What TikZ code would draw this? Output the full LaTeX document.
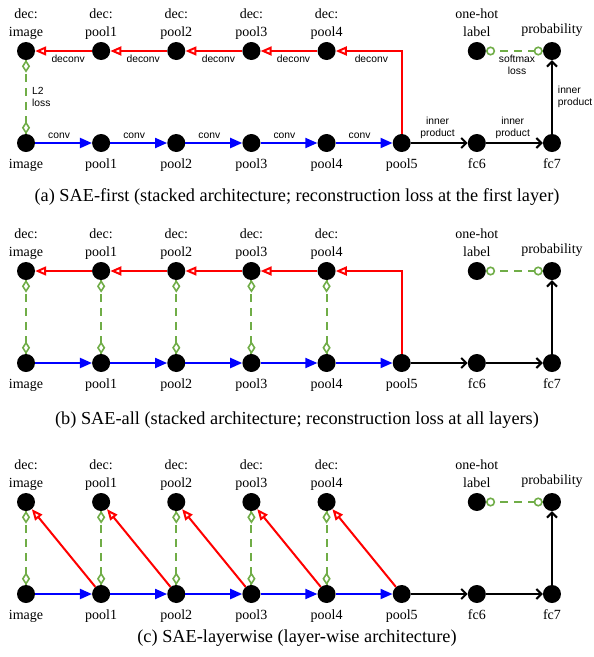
\documentclass[tikz,border=0pt]{standalone}
\usepackage{fontspec}
\setmainfont{Liberation Serif}
\setsansfont{Liberation Sans}
\usetikzlibrary{arrows.meta,shapes.geometric}
\definecolor{lossgreen}{RGB}{112,173,71}
\tikzset{
  dot/.style={circle,fill=black,inner sep=0pt,minimum size=18pt},
  nlab/.style={font=\fontsize{14}{16.5}\selectfont,inner sep=0pt},
  elab/.style={font=\sffamily\fontsize{10.3}{12}\selectfont,align=center,inner sep=1pt,text=black},
  captxt/.style={font=\fontsize{18.3}{21}\selectfont,inner sep=0pt},
  encst/.style={blue,line width=2pt,-{Triangle[length=12pt,width=10pt]}},
  decst/.style={red,line width=2pt,-{Triangle[open,length=11pt,width=9pt]}},
  fwdst/.style={black,line width=2pt,-{Straight Barb[length=5pt,width=10pt]}},
  lossst/.style={lossgreen,line width=2pt,dash pattern=on 8pt off 6pt},
  dmark/.style={diamond,draw=lossgreen,solid,fill=white,line width=1.6pt,inner sep=0pt,
     minimum width=7pt,minimum height=10.5pt},
  cmark/.style={circle,draw=lossgreen,solid,fill=white,line width=1.6pt,inner sep=0pt,
     minimum size=7.5pt},
}
% #1 prefix, #2 top row y, #3 bottom row y
\newcommand\panelnodes[3]{%
  \foreach \i/\t in {0/image,1/pool1,2/pool2,3/pool3,4/pool4,5/pool5,6/fc6,7/fc7}{
    \node[dot] (#1b\i) at ({26+75.14*\i},#3) {};
    \node[nlab,anchor=base] (#1bl\i) at ({26+75.14*\i},#3+25) {\t};
  }
  \foreach \i/\t in {0/image,1/pool1,2/pool2,3/pool3,4/pool4}{
    \node[dot] (#1d\i) at ({26+75.14*\i},#2) {};
    \node[nlab,anchor=base] (#1dla\i) at ({26+75.14*\i},#2-33) {dec:};
    \node[nlab,anchor=base] (#1dlb\i) at ({26+75.14*\i},#2-15) {\t};
  }
  \node[dot] (#1oh) at ({26+75.14*6},#2) {};
  \node[nlab,anchor=base] (#1ohla) at ({26+75.14*6},#2-33) {one-hot};
  \node[nlab,anchor=base] (#1ohlb) at ({26+75.14*6},#2-15) {label};
  \node[dot] (#1pr) at ({26+75.14*7},#2) {};
  \node[nlab,anchor=base] (#1prl) at ({26+75.14*7},#2-18) {probability};
}
% loss connector: #1 top node, #2 bottom node
\newcommand\lossline[2]{%
  \draw[lossst] (#1) -- (#2)
    node[dmark,pos=0,anchor=north] (#1m) {}
    node[dmark,pos=1,anchor=south] (#2m) {};
}
\newcommand\smaxline[2]{%
  \draw[lossst] (#1) -- (#2)
    node[cmark,pos=0,anchor=west] (#1m) {}
    node[cmark,pos=1,anchor=east] (#2m) {};
}
\begin{document}
\begin{tikzpicture}[x=1pt,y=-1pt]
\useasboundingbox (0,0) rectangle (594,657);

%% (a)
\panelnodes{a}{51}{143}
\draw[encst] (ab0) -- node[elab,pos=0.42,above=2pt]{conv} (ab1);
\draw[encst] (ab1) -- node[elab,pos=0.42,above=2pt]{conv} (ab2);
\draw[encst] (ab2) -- node[elab,pos=0.42,above=2pt]{conv} (ab3);
\draw[encst] (ab3) -- node[elab,pos=0.42,above=2pt]{conv} (ab4);
\draw[encst] (ab4) -- node[elab,pos=0.42,above=2pt]{conv} (ab5);
\draw[fwdst] (ab5) -- node[elab,pos=0.47,above=2pt]{inner\\product} (ab6);
\draw[fwdst] (ab6) -- node[elab,pos=0.47,above=2pt]{inner\\product} (ab7);
\draw[fwdst] (ab7) -- node[elab,pos=0.5,right=4pt,align=left]{inner\\product} (apr);
\draw[decst] (ab5) |- node[elab,pos=0.73,below=2pt]{deconv} (ad4);
\draw[decst] (ad4) -- node[elab,pos=0.42,below=2pt]{deconv} (ad3);
\draw[decst] (ad3) -- node[elab,pos=0.42,below=2pt]{deconv} (ad2);
\draw[decst] (ad2) -- node[elab,pos=0.42,below=2pt]{deconv} (ad1);
\draw[decst] (ad1) -- node[elab,pos=0.42,below=2pt]{deconv} (ad0);
\lossline{ad0}{ab0}
\node[elab,align=left,anchor=west] (al2) at (31,97) {L2\\loss};
\smaxline{aoh}{apr}
\node[elab,anchor=north] (asm) at (517,54) {softmax\\loss};
\node[captxt] (capa) at (297,197) {(a) SAE-first (stacked architecture; reconstruction loss at the first layer)};

%% (b)
\panelnodes{b}{271}{363}
\foreach \i [evaluate=\i as \j using int(\i+1)] in {0,...,4}{
  \draw[encst] (bb\i) -- (bb\j);
}
\draw[fwdst] (bb5) -- (bb6);
\draw[fwdst] (bb6) -- (bb7);
\draw[fwdst] (bb7) -- (bpr);
\draw[decst] (bb5) |- (bd4);
\foreach \i [evaluate=\i as \j using int(\i-1)] in {4,...,1}{
  \draw[decst] (bd\i) -- (bd\j);
}
\foreach \i in {0,...,4}{
  \lossline{bd\i}{bb\i}
}
\smaxline{boh}{bpr}
\node[captxt] (capb) at (297,420) {(b) SAE-all (stacked architecture; reconstruction loss at all layers)};

%% (c)
\panelnodes{c}{502}{594}
\foreach \i [evaluate=\i as \j using int(\i+1)] in {0,...,4}{
  \draw[encst] (cb\i) -- (cb\j);
}
\draw[fwdst] (cb5) -- (cb6);
\draw[fwdst] (cb6) -- (cb7);
\draw[fwdst] (cb7) -- (cpr);
\foreach \i [evaluate=\i as \j using int(\i-1)] in {1,...,5}{
  \draw[decst] (cb\i) -- (cd\j);
}
\foreach \i in {0,...,4}{
  \lossline{cd\i}{cb\i}
}
\smaxline{coh}{cpr}
\node[captxt] (capc) at (297,638) {(c) SAE-layerwise (layer-wise architecture)};
\end{tikzpicture}
\end{document}
